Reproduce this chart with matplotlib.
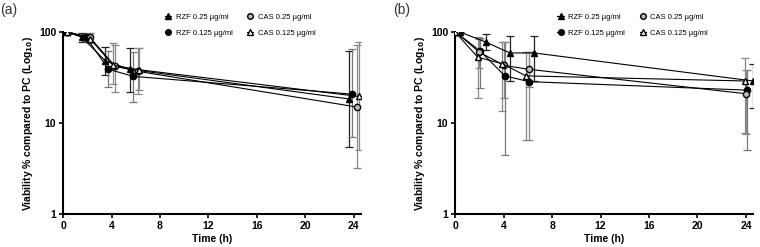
import matplotlib
matplotlib.use('Agg')
import matplotlib.pyplot as plt
from matplotlib.ticker import FixedLocator, NullLocator

plt.rcParams['font.family'] = ['Liberation Sans', 'DejaVu Sans']

labels = ['RZF 0.25 µg/ml', 'RZF 0.125 µg/ml', 'CAS 0.25 µg/ml', 'CAS 0.125 µg/ml']

# panel (a)
a_x = [[0.3, 1.55, 3.5, 5.5, 23.6],
       [0.35, 1.9, 3.75, 5.8, 23.85],
       [0.4, 2.2, 4.3, 6.2, 24.25],
       [0.35, 2.25, 4.15, 6.25, 24.4]]
a_y = [[100, 88, 48, 39, 18.4],
       [100, 88, 39, 32.6, 20.8],
       [100, 88, 42, 37, 15],
       [100, 84, 43, 38.6, 19.6]]
a_lo = [[99, 78, 34, 22, 5.5],
        [99, 80, 25, 17, 7],
        [99, 78, 22, 21, 3.2],
        [99, 75, 27, 23, 5]]
a_hi = [[101, 98, 68, 67, 62],
        [101, 96, 62, 60, 65],
        [101, 99, 73, 67, 72],
        [101, 97, 75, 67, 78]]

# panel (b)
b_x = [[0.4, 2.5, 4.5, 6.5, 24.6],
       [0.05, 2.05, 4.1, 6.1, 24.1],
       [0.05, 2.0, 4.05, 6.05, 24.0],
       [0.0, 1.85, 3.85, 5.85, 23.9]]
b_y = [[100, 78, 59, 59, 29],
       [100, 62, 33, 28.5, 23],
       [100, 60, 43, 39, 21],
       [100, 53, 45, 33, 29]]
b_lo = [[99, 63, 29, 29, 14.7],
        [99, 24, 4.4, 25, 5],
        [99, 40, 19, 6.5, 7.6],
        [99, 19, 13.5, 6.5, 7.7]]
b_hi = [[101, 95, 90, 90, 45],
        [101, 86, 78, 60, 38],
        [101, 85, 78, 60, 38],
        [101, 88, 78, 60, 52]]

markers = ['^', 'o', 'o', '^']
faces = ['black', 'black', '#bbbbbb', 'white']
ecols = ['#222222', '#777777', '#888888', '#888888']

fig = plt.figure(figsize=(7.6, 2.47), dpi=100)
ax1 = fig.add_axes([0.083, 0.134, 0.392, 0.736])
ax2 = fig.add_axes([0.599, 0.134, 0.392, 0.736])

for ax, xs, ys, los, his, tag in [(ax1, a_x, a_y, a_lo, a_hi, '(a)'),
                                  (ax2, b_x, b_y, b_lo, b_hi, '(b)')]:
    for i in range(4):
        lo = [y - l for y, l in zip(ys[i], los[i])]
        hi = [h - y for y, h in zip(ys[i], his[i])]
        ax.errorbar(xs[i], ys[i], yerr=[lo, hi], fmt='none', ecolor=ecols[i],
                    elinewidth=0.9, capsize=3, capthick=0.9, zorder=2)
        ax.plot(xs[i], ys[i], color='black', lw=0.8, marker=markers[i],
                markersize=4.5, markerfacecolor=faces[i], markeredgecolor='black',
                markeredgewidth=1.0, label=labels[i], zorder=3)
    ax.set_yscale('log')
    ax.set_ylim(1, 100)
    ax.set_xlim(0, 24.6)
    ax.xaxis.set_major_locator(FixedLocator([0, 4, 8, 12, 16, 20, 24]))
    ax.yaxis.set_major_locator(FixedLocator([1, 10, 100]))
    ax.yaxis.set_minor_locator(NullLocator())
    ax.set_yticklabels(['1', '10', '100'])
    for s in ['top', 'right']:
        ax.spines[s].set_visible(False)
    for s in ['left', 'bottom']:
        ax.spines[s].set_linewidth(1.5)
    ax.tick_params(width=1.2, length=3, pad=2, labelsize=7.5)
    for t in ax.get_xticklabels() + ax.get_yticklabels():
        t.set_fontweight('bold')
    ax.set_xlabel('Time (h)', fontsize=7.5, fontweight='bold', labelpad=2)
    ax.set_ylabel('Viability % compared to PC (Log$_{\\mathbf{10}}$)', fontsize=7.5,
                  fontweight='bold', labelpad=3)
    ax.legend(loc='upper left', bbox_to_anchor=(0.32, 1.14), ncol=2, frameon=False,
              fontsize=5.5, handlelength=0.8, handletextpad=0.6, columnspacing=1.9,
              labelspacing=1.1, markerscale=0.9)
    ax.text(-0.21, 1.10, tag, transform=ax.transAxes, fontsize=10, color='#333333')

fig.savefig('out.png', dpi=100)
